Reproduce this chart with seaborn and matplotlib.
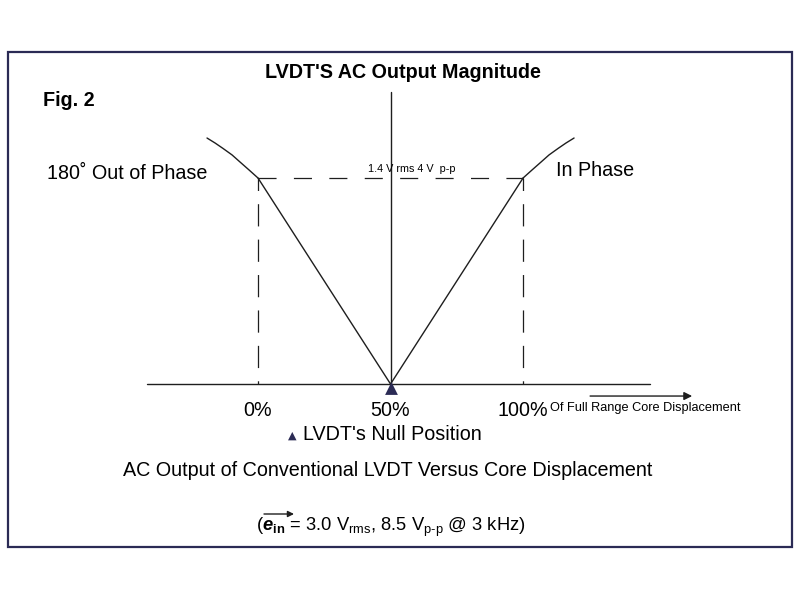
import matplotlib
matplotlib.use("Agg")
import matplotlib.pyplot as plt
import matplotlib.transforms as mtransforms
from matplotlib.patches import Rectangle
import seaborn as sns
import pandas as pd

# ---- data (percent of full range core displacement vs AC output, Vrms) ----
positions = [0, 50, 100]
tick_labels = ["0%", "50%", "100%"]
output = [1.4, 0.0, 1.4]
left_curve_x = [-19.25, -16.2, -13.2, -9.8, -6.8, -3.4, 0]
left_curve_y = [1.672, 1.638, 1.601, 1.557, 1.509, 1.455, 1.40]
right_curve_x = [100, 103.4, 106.8, 109.8, 113.2, 116.2, 119.25]
right_curve_y = [1.40, 1.455, 1.509, 1.557, 1.601, 1.638, 1.672]
null_position = [50]
null_output = [0.0]

sns.set_theme(style="white")
plt.rcParams['font.family'] = ['Liberation Sans', 'DejaVu Sans']
plt.rcParams['mathtext.fontset'] = 'custom'
plt.rcParams['mathtext.rm'] = 'Liberation Sans'
plt.rcParams['mathtext.it'] = 'Liberation Sans:italic'
plt.rcParams['mathtext.bf'] = 'Liberation Sans:bold'
plt.rcParams['mathtext.bfit'] = 'Liberation Sans:bold:italic'
plt.rcParams['lines.scale_dashes'] = False

W, H = 800, 599
fig = plt.figure(figsize=(W / 100, H / 100), dpi=100)
fig.patch.set_facecolor('white')
ax = fig.add_axes([0, 0, 1, 1])
ax.set_xlim(-97.36, 204.5)
ax.set_ylim(-1.461, 2.610)
ax.axis('off')

ink = '#1e1e1e'
navy = '#2b2b55'

# V-shaped output
df = pd.DataFrame({'pos': positions, 'out': output})
sns.lineplot(data=df, x='pos', y='out', ax=ax, color=ink, lw=1.0,
             sort=False, estimator=None)
sns.lineplot(x=left_curve_x, y=left_curve_y, ax=ax, color=ink, lw=1.0,
             sort=False, estimator=None)
sns.lineplot(x=right_curve_x, y=right_curve_y, ax=ax, color=ink, lw=1.0,
             sort=False, estimator=None)

# dashed guides at full scale
ax.plot([positions[0], positions[-1]], [output[0], output[-1]], color=ink,
        lw=0.9, linestyle=(0, (13, 12.5)))
for p, o in zip([positions[0], positions[-1]], [output[0], output[-1]]):
    ax.plot([p, p], [o, 0], color=ink, lw=0.9, linestyle=(7, (16, 9.5)))

# axes lines
ax.plot([-41.9, 147.9], [0, 0], color=ink, lw=1.0)
ax.plot([positions[1], positions[1]], [0, 1.984], color=ink, lw=1.0)

# null marker
off = mtransforms.offset_copy(ax.transData, fig=fig, x=0, y=-4, units='dots')
ax.scatter(null_position, null_output, marker='^', s=85, color=navy,
           transform=off, zorder=5, linewidths=0)

# displacement arrow
ax.annotate('', xy=(163.8, -0.0816), xytext=(125.3, -0.0816),
            arrowprops=dict(arrowstyle='-|>', color=ink, lw=1.0,
                            mutation_scale=12, shrinkA=0, shrinkB=0))

def px(x, y):
    return x / W, 1 - y / H

T = ax.transAxes
big = 14.2
ax.text(*px(403, 73), "LVDT'S AC Output Magnitude", transform=T, ha='center',
        va='center', fontsize=14.2, fontweight='bold', color='black')
ax.text(*px(43, 100), "Fig. 2", transform=T, ha='left', va='center',
        fontsize=14.2, fontweight='bold', color='black')
ax.text(*px(47, 174), "180˚ Out of Phase", transform=T, ha='left',
        va='center', fontsize=big, color='black')
ax.text(*px(556, 171), "In Phase", transform=T, ha='left', va='center',
        fontsize=big, color='black')
ax.text(*px(368, 169), "1.4 V rms 4 V  p-p", transform=T, ha='left',
        va='center', fontsize=7.8, color='black')

for p, lab in zip(positions, tick_labels):
    ax.text(p, 0, lab, transform=mtransforms.offset_copy(
        ax.transData, fig=fig, x=0, y=-26, units='dots'),
        ha='center', va='center', fontsize=big, color='black')
ax.text(*px(550, 408), "Of Full Range Core Displacement", transform=T,
        ha='left', va='center', fontsize=9.2, color='black')

ax.text(*px(292, 436), "▲", transform=T, ha='center', va='center',
        fontsize=8, color=navy, family=['DejaVu Sans'])
ax.text(*px(303, 435), "LVDT's Null Position", transform=T, ha='left',
        va='center', fontsize=big, color='black')
ax.text(*px(388, 470), "AC Output of Conventional LVDT Versus Core Displacement",
        transform=T, ha='center', va='center', fontsize=big, color='black')
ax.text(*px(391, 527),
        r"($\mathbfit{e}_{\mathbf{in}}$ = 3.0 V$_{\mathrm{rms}}$, "
        r"8.5 V$_{\mathrm{p\text{-}p}}$ @ 3 kHz)",
        transform=T, ha='center', va='center', fontsize=13.2, color='black')
# vector arrow over e_in
ax.annotate('', xy=px(294, 514), xytext=px(264, 514), xycoords=T, textcoords=T,
            arrowprops=dict(arrowstyle='-|>', color=ink, lw=1.0,
                            mutation_scale=9, shrinkA=0, shrinkB=0))

# frame
fig.patches.append(Rectangle((8 / W, 1 - 547 / H), 784 / W, 495 / H,
                             transform=fig.transFigure, fill=False,
                             edgecolor=navy, lw=1.6))

fig.savefig('out.png', dpi=100, facecolor='white')
